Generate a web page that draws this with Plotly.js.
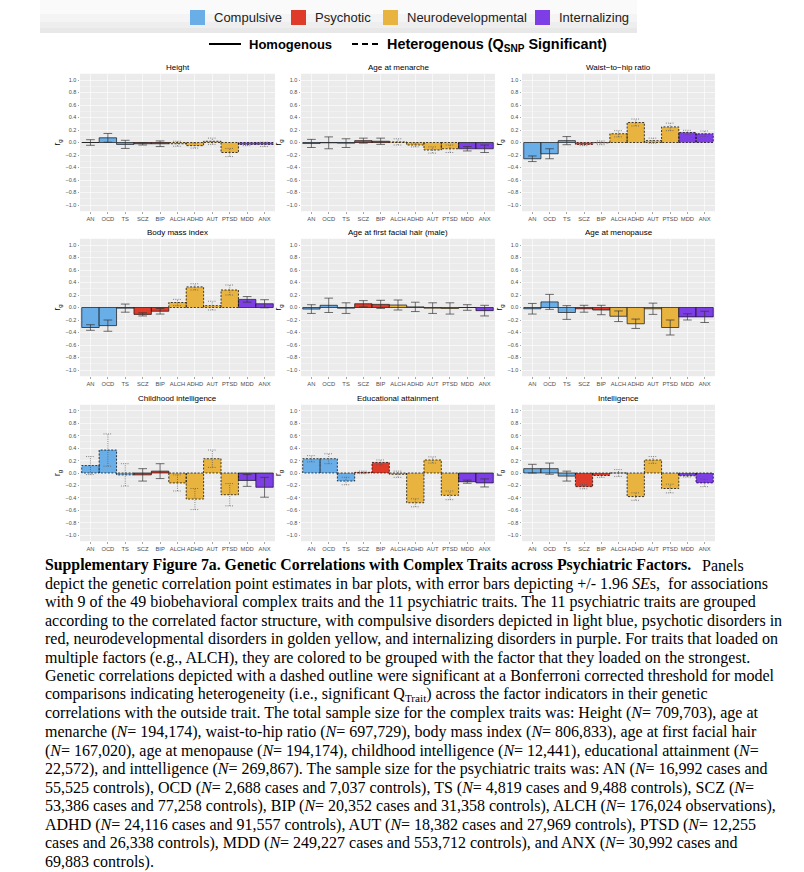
<!DOCTYPE html>
<html><head><meta charset="utf-8">
<script src="https://cdn.plot.ly/plotly-3.0.1.min.js"></script>
<style>html,body{margin:0;padding:0;background:#fff}</style>
</head><body><div id="chart" style="width:804px;height:872px"></div>
<script>
// ---------- data ----------
const categories = ["AN","OCD","TS","SCZ","BIP","ALCH","ADHD","AUT","PTSD","MDD","ANX"];
const factorOf = [0,0,0,1,1,2,2,2,2,3,3];
const factorNames = ["Compulsive","Psychotic","Neurodevelopmental","Internalizing"];
const factorColors = ["#6AAEE8","#DF3B2A","#E8B33F","#7E3EE6"];
const traitTitles = ["Height","Age at menarche","Waist\u2212to\u2212hip ratio","Body mass index","Age at first facial hair (male)","Age at menopause","Childhood intelligence","Educational attainment","Intelligence"];
const yTicks = [-1.0,-0.8,-0.6,-0.4,-0.2,0.0,0.2,0.4,0.6,0.8,1.0];
const yMinor = [-0.9,-0.7,-0.5,-0.3,-0.1,0.1,0.3,0.5,0.7,0.9];

// rg point estimates, 1.96*SE half-widths, heterogeneity flag per factor
const rgHeight = [0.00, 0.075, -0.03, -0.02, -0.02, -0.02, -0.05, 0.02, -0.16, -0.03, -0.03];
const ciHeight = [0.045, 0.07, 0.065, 0.02, 0.045, 0.04, 0.04, 0.05, 0.065, 0.02, 0.035];
const hetHeight = [0,0,1,1];

const rgMenarche = [-0.015, -0.005, -0.01, 0.03, 0.02, 0.01, -0.04, -0.12, -0.10, -0.10, -0.10];
const ciMenarche = [0.065, 0.095, 0.07, 0.04, 0.05, 0.05, 0.03, 0.05, 0.06, 0.035, 0.06];
const hetMenarche = [0,0,1,0];

const rgWHR = [-0.26, -0.18, 0.03, -0.03, -0.005, 0.14, 0.32, 0.03, 0.25, 0.16, 0.14];
const ciWHR = [0.045, 0.08, 0.065, 0.02, 0.03, 0.05, 0.055, 0.04, 0.06, 0.035, 0.045];
const hetWHR = [0,1,1,1];

const rgBMI = [-0.32, -0.29, -0.01, -0.11, -0.06, 0.08, 0.33, 0.03, 0.28, 0.13, 0.06];
const ciBMI = [0.045, 0.09, 0.065, 0.025, 0.045, 0.05, 0.05, 0.07, 0.08, 0.045, 0.065];
const hetBMI = [0,0,1,0];

const rgFacial = [-0.025, 0.035, -0.01, 0.06, 0.05, 0.04, 0.01, -0.01, -0.015, 0.00, -0.05];
const ciFacial = [0.07, 0.115, 0.085, 0.05, 0.065, 0.08, 0.075, 0.085, 0.09, 0.045, 0.085];
const hetFacial = [0,0,0,0];

const rgMenopause = [-0.02, 0.09, -0.08, -0.02, -0.04, -0.14, -0.26, -0.02, -0.32, -0.15, -0.15];
const ciMenopause = [0.085, 0.12, 0.11, 0.055, 0.075, 0.085, 0.075, 0.09, 0.12, 0.05, 0.09];
const hetMenopause = [0,0,0,0];

const rgChildIQ = [0.12, 0.37, -0.03, -0.03, 0.03, -0.16, -0.42, 0.23, -0.35, -0.12, -0.23];
const ciChildIQ = [0.145, 0.26, 0.18, 0.10, 0.12, 0.13, 0.17, 0.14, 0.18, 0.095, 0.16];
const hetChildIQ = [1,0,1,0];

const rgEA = [0.23, 0.23, -0.13, 0.01, 0.17, -0.02, -0.48, 0.21, -0.36, -0.14, -0.16];
const ciEA = [0.05, 0.08, 0.06, 0.02, 0.04, 0.05, 0.065, 0.05, 0.07, 0.025, 0.065];
const hetEA = [1,1,1,0];

const rgIQ = [0.07, 0.07, -0.05, -0.22, -0.04, 0.00, -0.38, 0.21, -0.25, -0.045, -0.16];
const ciIQ = [0.07, 0.09, 0.08, 0.035, 0.03, 0.055, 0.06, 0.055, 0.07, 0.02, 0.06];
const hetIQ = [0,1,1,1];

const traits = [
  {rg: rgHeight, ci: ciHeight, het: hetHeight},
  {rg: rgMenarche, ci: ciMenarche, het: hetMenarche},
  {rg: rgWHR, ci: ciWHR, het: hetWHR},
  {rg: rgBMI, ci: ciBMI, het: hetBMI},
  {rg: rgFacial, ci: ciFacial, het: hetFacial},
  {rg: rgMenopause, ci: ciMenopause, het: hetMenopause},
  {rg: rgChildIQ, ci: ciChildIQ, het: hetChildIQ},
  {rg: rgEA, ci: ciEA, het: hetEA},
  {rg: rgIQ, ci: ciIQ, het: hetIQ}
];

// ---------- layout helpers ----------
const W = 804, H = 872;
const px = v => v / W;
const py = v => 1 - v / H;
const colDom = [[80,275],[301,495],[522,715]];
const rowDom = [[73.75,211.25],[238.75,376.25],[404.75,541.25]];
const FONT = "Liberation Sans, Arial, sans-serif";
const SERIF = "Liberation Serif, Times New Roman, serif";

const data = [];
const layout = {
  width: W, height: H,
  margin: {l:0, r:0, t:0, b:0},
  paper_bgcolor: "#ffffff",
  plot_bgcolor: "#EBEBEB",
  showlegend: false,
  font: {family: FONT, color: "#000"},
  annotations: [],
  shapes: []
};

const idx = categories.map((c, i) => i);

traits.forEach((t, k) => {
  const xa = k === 0 ? "x" : "x" + (k + 1);
  const ya = k === 0 ? "y" : "y" + (k + 1);
  const isHet = idx.map(i => t.het[factorOf[i]] === 1);

  data.push({
    type: "bar", x: idx, y: t.rg, width: 1, xaxis: xa, yaxis: ya,
    marker: {color: idx.map(i => factorColors[factorOf[i]]),
             line: {color: "#111", width: idx.map(i => isHet[i] ? 0 : 0.7)}},
    hoverinfo: "skip"
  });

  // dashed outlines for heterogeneous bars
  const ox = [], oy = [];
  idx.forEach(i => {
    if (!isHet[i]) return;
    ox.push(i - 0.5, i - 0.5, i + 0.5, i + 0.5, i - 0.5, null);
    oy.push(0, t.rg[i], t.rg[i], 0, 0, null);
  });
  data.push({type: "scatter", mode: "lines", x: ox, y: oy, xaxis: xa, yaxis: ya,
    line: {color: "#111", width: 0.8, dash: "2px,1.5px"}, hoverinfo: "skip"});

  // error bars
  const build = het => {
    const ex = [], ey = [];
    idx.forEach(i => {
      if (isHet[i] !== het) return;
      const lo = t.rg[i] - t.ci[i], hi = t.rg[i] + t.ci[i];
      ex.push(i, i, null, i - 0.25, i + 0.25, null, i - 0.25, i + 0.25, null);
      ey.push(lo, hi, null, lo, lo, null, hi, hi, null);
    });
    return {ex, ey};
  };
  const s = build(false), d = build(true);
  data.push({type: "scatter", mode: "lines", x: s.ex, y: s.ey, xaxis: xa, yaxis: ya,
    line: {color: "#333", width: 0.7}, hoverinfo: "skip"});
  data.push({type: "scatter", mode: "lines", x: d.ex, y: d.ey, xaxis: xa, yaxis: ya,
    line: {color: "#555", width: 0.7, dash: "1px,1.2px"}, hoverinfo: "skip"});

  const c = colDom[k % 3], r = rowDom[Math.floor(k / 3)];
  const xKey = k === 0 ? "xaxis" : "xaxis" + (k + 1);
  const yKey = k === 0 ? "yaxis" : "yaxis" + (k + 1);
  layout[xKey] = {
    domain: [px(c[0]), px(c[1])], anchor: ya, range: [-0.6, 10.6],
    tickmode: "array", tickvals: idx, ticktext: categories, tickangle: 0,
    tickfont: {size: 5.8, color: "#4D4D4D", family: FONT},
    showgrid: true, gridcolor: "#ffffff", gridwidth: 0.6, zeroline: false,
    ticks: "outside", ticklen: 1.5, tickwidth: 0.5, tickcolor: "#4D4D4D",
    showline: false, fixedrange: true, automargin: false
  };
  layout[yKey] = {
    domain: [py(r[1]), py(r[0])], anchor: xa, range: [-1.1, 1.1],
    tickmode: "array", tickvals: yTicks, tickformat: ".1f",
    tickfont: {size: 5.5, color: "#4D4D4D", family: FONT},
    showgrid: true, gridcolor: "#ffffff", gridwidth: 0.6, zeroline: false,
    minor: {tickmode: "array", tickvals: yMinor, showgrid: true, gridcolor: "#ffffff", gridwidth: 0.3, ticks: ""},
    ticks: "outside", ticklen: 1.5, tickwidth: 0.5, tickcolor: "#4D4D4D",
    showline: false, fixedrange: true, automargin: false,
    title: {text: "r<sub>g</sub>", font: {size: 8.5, color: "#000", family: FONT}, standoff: 3}
  };
  layout.annotations.push({
    xref: "paper", yref: "paper", x: px((c[0] + c[1]) / 2), y: py(r[0]),
    xanchor: "center", yanchor: "bottom", showarrow: false,
    text: traitTitles[k], font: {size: 8, color: "#000", family: FONT}
  });
});

// ---------- top legend ----------
const bandRows = [[0, 33, "#FAFAFA"], [14, 33, "#F4F4F4"], [22, 33, "#EEEEEE"], [28, 33, "#E8E8E8"]];
bandRows.forEach(b => layout.shapes.push({type: "rect", xref: "paper", yref: "paper",
  x0: px(40), x1: px(637), y0: py(b[1]), y1: py(b[0]), fillcolor: b[2], line: {width: 0}, layer: "below"}));
const legX = [190, 291, 383, 535];
factorNames.forEach((n, i) => {
  layout.shapes.push({type: "rect", xref: "paper", yref: "paper",
    x0: px(legX[i]), x1: px(legX[i] + 15), y0: py(25), y1: py(10),
    fillcolor: factorColors[i], line: {width: 0}});
  layout.annotations.push({xref: "paper", yref: "paper", x: px(legX[i] + 22), y: py(17.5),
    xanchor: "left", yanchor: "middle", showarrow: false, text: n,
    font: {size: 13, color: "#222", family: FONT}});
});
layout.shapes.push({type: "line", xref: "paper", yref: "paper", x0: px(209), x1: px(241), y0: py(44), y1: py(44),
  line: {color: "#000", width: 2}});
layout.shapes.push({type: "line", xref: "paper", yref: "paper", x0: px(352), x1: px(379), y0: py(44), y1: py(44),
  line: {color: "#000", width: 2, dash: "6px,4px"}});
layout.annotations.push({xref: "paper", yref: "paper", x: px(247), y: py(44.5), xanchor: "left", yanchor: "middle",
  showarrow: false, text: "<b>Homogenous</b>", font: {size: 13, color: "#000", family: FONT}});
layout.annotations.push({xref: "paper", yref: "paper", x: px(385), y: py(44.5), xanchor: "left", yanchor: "middle",
  showarrow: false, text: "<b>Heterogenous (Q<sub>SNP</sub> Significant)</b>", font: {size: 14.4, color: "#000", family: FONT}});

// ---------- caption ----------
const captionHead = "<b>Supplementary Figure 7a. Genetic Correlations with Complex Traits across Psychiatric Factors.</b>";
const captionLines = [
  "Panels",
  "depict the genetic correlation point estimates in bar plots, with error bars depicting +/- 1.96 <i>SE</i>s,  for associations",
  "with 9 of the 49 biobehavioral complex traits and the 11 psychiatric traits. The 11 psychiatric traits are grouped",
  "according to the correlated factor structure, with compulsive disorders depicted in light blue, psychotic disorders in",
  "red, neurodevelopmental disorders in golden yellow, and internalizing disorders in purple. For traits that loaded on",
  "multiple factors (e.g., ALCH), they are colored to be grouped with the factor that they loaded on the strongest.",
  "Genetic correlations depicted with a dashed outline were significant at a Bonferroni corrected threshold for model",
  "comparisons indicating heterogeneity (i.e., significant Q<sub>Trait</sub>) across the factor indicators in their genetic",
  "correlations with the outside trait. The total sample size for the complex traits was: Height (<i>N</i>= 709,703), age at",
  "menarche (<i>N</i>= 194,174), waist-to-hip ratio (<i>N</i>= 697,729), body mass index (<i>N</i>= 806,833), age at first facial hair",
  "(<i>N</i>= 167,020), age at menopause (<i>N</i>= 194,174), childhood intelligence (<i>N</i>= 12,441), educational attainment (<i>N</i>=",
  "22,572), and inttelligence (<i>N</i>= 269,867). The sample size for the psychiatric traits was: AN (<i>N</i>= 16,992 cases and",
  "55,525 controls), OCD (<i>N</i>= 2,688 cases and 7,037 controls), TS (<i>N</i>= 4,819 cases and 9,488 controls), SCZ (<i>N</i>=",
  "53,386 cases and 77,258 controls), BIP (<i>N</i>= 20,352 cases and 31,358 controls), ALCH (<i>N</i>= 176,024 observations),",
  "ADHD (<i>N</i>= 24,116 cases and 91,557 controls), AUT (<i>N</i>= 18,382 cases and 27,969 controls), PTSD (<i>N</i>= 12,255",
  "cases and 26,338 controls), MDD (<i>N</i>= 249,227 cases and 553,712 controls), and ANX (<i>N</i>= 30,992 cases and",
  "69,883 controls)."
];
layout.annotations.push({xref: "paper", yref: "paper", x: px(43), y: py(565),
  xanchor: "left", yanchor: "middle", showarrow: false, align: "left", text: captionHead,
  font: {size: 15.8, color: "#000", family: SERIF}});
captionLines.forEach((line, i) => {
  layout.annotations.push({xref: "paper", yref: "paper", x: px(i === 0 ? 700 : 43), y: py(565 + i * 18.56),
    xanchor: "left", yanchor: "middle", showarrow: false, align: "left", text: line,
    font: {size: 16, color: "#000", family: SERIF}});
});

Plotly.newPlot("chart", data, layout, {staticPlot: true, displayModeBar: false});
</script></body></html>
